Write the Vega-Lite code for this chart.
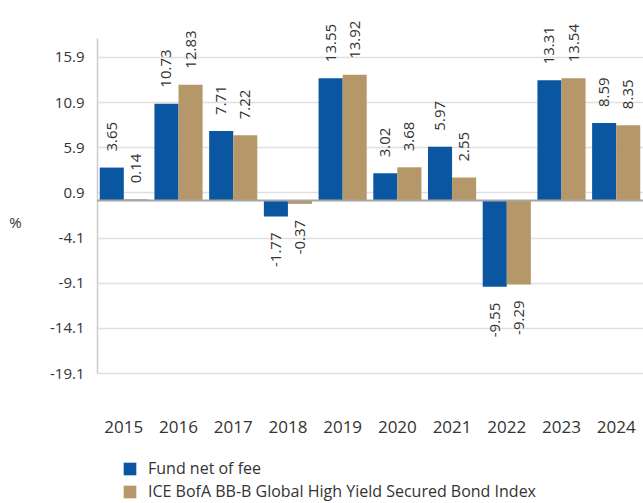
{
  "$schema": "https://vega.github.io/schema/vega-lite/v6.json",
  "width": 546,
  "height": 335,
  "autosize": {"type": "none"},
  "padding": {"left": 97, "top": 38, "right": 0, "bottom": 130},
  "config": {
    "view": {"stroke": null},
    "font": "Open Sans",
    "locale": {"number": {"decimal": ".", "thousands": ",", "grouping": [3], "currency": ["$", ""], "minus": "-"}}
  },
  "data": {
    "values": [
      {"year": "2015", "series": "Fund net of fee", "value": 3.65},
      {"year": "2015", "series": "ICE BofA BB-B Global High Yield Secured Bond Index", "value": 0.14},
      {"year": "2016", "series": "Fund net of fee", "value": 10.73},
      {"year": "2016", "series": "ICE BofA BB-B Global High Yield Secured Bond Index", "value": 12.83},
      {"year": "2017", "series": "Fund net of fee", "value": 7.71},
      {"year": "2017", "series": "ICE BofA BB-B Global High Yield Secured Bond Index", "value": 7.22},
      {"year": "2018", "series": "Fund net of fee", "value": -1.77},
      {"year": "2018", "series": "ICE BofA BB-B Global High Yield Secured Bond Index", "value": -0.37},
      {"year": "2019", "series": "Fund net of fee", "value": 13.55},
      {"year": "2019", "series": "ICE BofA BB-B Global High Yield Secured Bond Index", "value": 13.92},
      {"year": "2020", "series": "Fund net of fee", "value": 3.02},
      {"year": "2020", "series": "ICE BofA BB-B Global High Yield Secured Bond Index", "value": 3.68},
      {"year": "2021", "series": "Fund net of fee", "value": 5.97},
      {"year": "2021", "series": "ICE BofA BB-B Global High Yield Secured Bond Index", "value": 2.55},
      {"year": "2022", "series": "Fund net of fee", "value": -9.55},
      {"year": "2022", "series": "ICE BofA BB-B Global High Yield Secured Bond Index", "value": -9.29},
      {"year": "2023", "series": "Fund net of fee", "value": 13.31},
      {"year": "2023", "series": "ICE BofA BB-B Global High Yield Secured Bond Index", "value": 13.54},
      {"year": "2024", "series": "Fund net of fee", "value": 8.59},
      {"year": "2024", "series": "ICE BofA BB-B Global High Yield Secured Bond Index", "value": 8.35}
    ]
  },
  "layer": [
    {
      "mark": {"type": "bar"},
      "encoding": {
        "x": {
          "field": "year", "type": "nominal",
          "scale": {"paddingInner": 0.12, "paddingOuter": 0.05},
          "axis": {"orient": "bottom", "domain": false, "ticks": false, "labelAngle": 0, "labelFontSize": 17, "labelColor": "#333333", "labelPadding": 46, "title": null, "grid": false}
        },
        "xOffset": {"field": "series", "type": "nominal", "sort": ["Fund net of fee", "ICE BofA BB-B Global High Yield Secured Bond Index"]},
        "y": {
          "field": "value", "type": "quantitative",
          "scale": {"domain": [-19.1, 18.0], "nice": false, "zero": false},
          "axis": {
            "values": [-19.1, -14.1, -9.1, -4.1, 0.9, 5.9, 10.9, 15.9],
            "format": ".1f", "ticks": false, "domainColor": "#cccccc", "domainWidth": 1.5,
            "gridColor": "#e0e0e0", "gridWidth": 1.5,
            "labelFontSize": 15, "labelColor": "#333333", "labelPadding": 13,
            "title": "%", "titleAngle": 0, "titleX": -82, "titleY": 184, "titleAlign": "center", "titleBaseline": "middle",
            "titleFontWeight": "normal", "titleFontSize": 15, "titleColor": "#333333"
          }
        },
        "color": {
          "field": "series", "type": "nominal",
          "scale": {"domain": ["Fund net of fee", "ICE BofA BB-B Global High Yield Secured Bond Index"], "range": ["#0b56a1", "#b5976a"]},
          "legend": {"orient": "none", "legendX": 25, "legendY": 423, "direction": "vertical", "title": null, "symbolType": "square", "symbolSize": 160, "symbolStrokeWidth": 0, "labelFontSize": 16, "labelColor": "#333333", "labelLimit": 700, "rowPadding": 7, "labelOffset": 10, "padding": 0}
        }
      }
    },
    {
      "transform": [{"filter": "datum.value >= 0"}],
      "mark": {"type": "text", "angle": 270, "align": "left", "baseline": "middle", "dx": 16, "fontSize": 15, "color": "#333333"},
      "encoding": {
        "x": {"field": "year", "type": "nominal"},
        "xOffset": {"field": "series", "type": "nominal", "sort": ["Fund net of fee", "ICE BofA BB-B Global High Yield Secured Bond Index"]},
        "y": {"field": "value", "type": "quantitative"},
        "text": {"field": "value", "type": "quantitative", "format": ".2f"}
      }
    },
    {
      "transform": [{"filter": "datum.value < 0"}],
      "mark": {"type": "text", "angle": 270, "align": "right", "baseline": "middle", "dx": -16, "fontSize": 15, "color": "#333333"},
      "encoding": {
        "x": {"field": "year", "type": "nominal"},
        "xOffset": {"field": "series", "type": "nominal", "sort": ["Fund net of fee", "ICE BofA BB-B Global High Yield Secured Bond Index"]},
        "y": {"field": "value", "type": "quantitative"},
        "text": {"field": "value", "type": "quantitative", "format": ".2f"}
      }
    },
    {
      "data": {"values": [{}]},
      "mark": {"type": "rule", "color": "#a6a6a6", "strokeWidth": 2},
      "encoding": {"y": {"datum": 0, "type": "quantitative"}}
    }
  ]
}
